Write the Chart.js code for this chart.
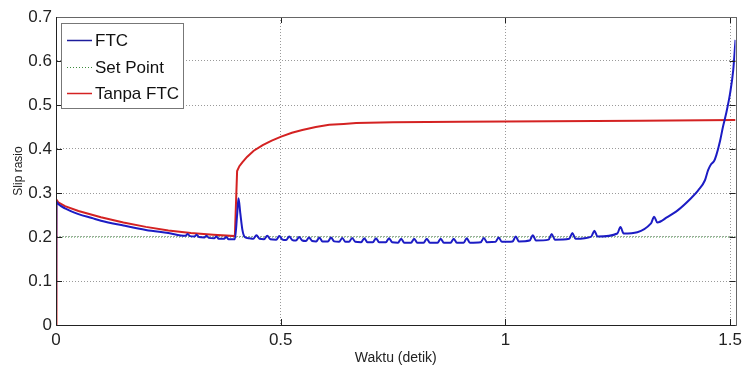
<!DOCTYPE html>
<html>
<head>
<meta charset="utf-8">
<script src="https://cdn.jsdelivr.net/npm/chart.js@4/dist/chart.umd.min.js"></script>
<style>
html,body{margin:0;padding:0;background:#fff;}
#wrap{width:747px;height:367px;}
</style>
</head>
<body>
<div id="wrap"><canvas id="c" width="747" height="367"></canvas></div>
<script>
// ---- data ----
const seriesNames = ["FTC", "Set Point", "Tanpa FTC"];
const xTicks = [0, 0.5, 1, 1.5];
const yTicks = [0, 0.1, 0.2, 0.3, 0.4, 0.5, 0.6, 0.7];

const ftcX = [0, 0.001, 0.005, 0.02, 0.05, 0.08, 0.1, 0.15, 0.2, 0.25,
  0.288, 0.293, 0.298, 0.308, 0.313, 0.318, 0.330, 0.335, 0.340, 0.352, 0.357, 0.362, 0.374, 0.379, 0.384,
  0.398, 0.403, 0.406, 0.41, 0.415, 0.42, 0.43,
  0.439, 0.446, 0.453, 0.463, 0.470, 0.477, 0.490, 0.497, 0.504, 0.512, 0.519, 0.526, 0.534, 0.541, 0.548,
  0.556, 0.563, 0.570, 0.579, 0.586, 0.593, 0.605, 0.612, 0.619, 0.630, 0.637, 0.644, 0.652, 0.659, 0.666,
  0.679, 0.686, 0.693, 0.705, 0.712, 0.719, 0.734, 0.741, 0.748, 0.761, 0.768, 0.775, 0.790, 0.797, 0.804,
  0.818, 0.825, 0.832, 0.849, 0.856, 0.863, 0.878, 0.885, 0.892, 0.907, 0.914, 0.921, 0.945, 0.952, 0.959,
  0.978, 0.985, 0.992, 1.016, 1.023, 1.030, 1.054, 1.061, 1.068, 1.096, 1.103, 1.110, 1.142, 1.149, 1.156,
  1.191, 1.198, 1.205, 1.249, 1.256, 1.263, 1.324, 1.331, 1.338,
  1.36, 1.384, 1.413, 1.429, 1.444, 1.451, 1.458, 1.464, 1.469, 1.478, 1.484, 1.491, 1.5, 1.507, 1.512];
const ftcY = [0, 0.28, 0.275, 0.265, 0.252, 0.243, 0.237, 0.226, 0.216, 0.209,
  0.203, 0.207, 0.202, 0.201, 0.205, 0.200, 0.199, 0.203, 0.198, 0.197, 0.201, 0.196, 0.196, 0.200, 0.195,
  0.195, 0.25, 0.288, 0.255, 0.215, 0.200, 0.197,
  0.196, 0.204, 0.196, 0.195, 0.203, 0.195, 0.194, 0.202, 0.194, 0.193, 0.201, 0.193, 0.192, 0.200, 0.192,
  0.191, 0.199, 0.191, 0.190, 0.199, 0.190, 0.190, 0.199, 0.190, 0.189, 0.198, 0.189, 0.189, 0.198, 0.189,
  0.188, 0.197, 0.188, 0.188, 0.197, 0.188, 0.188, 0.197, 0.188, 0.187, 0.196, 0.187, 0.187, 0.196, 0.187,
  0.187, 0.196, 0.187, 0.187, 0.196, 0.187, 0.187, 0.196, 0.187, 0.187, 0.197, 0.187, 0.188, 0.198, 0.188,
  0.189, 0.199, 0.189, 0.190, 0.201, 0.190, 0.192, 0.204, 0.192, 0.194, 0.207, 0.194, 0.196, 0.209, 0.196,
  0.201, 0.214, 0.201, 0.208, 0.223, 0.208, 0.231, 0.246, 0.233,
  0.245, 0.261, 0.288, 0.306, 0.329, 0.352, 0.366, 0.372, 0.385, 0.420, 0.450, 0.480, 0.527, 0.580, 0.648];

const setX = [0, 1.512];
const setY = [0.2, 0.2];

const tanpaX = [0, 0.001, 0.005, 0.02, 0.05, 0.1, 0.15, 0.2, 0.25, 0.3, 0.35, 0.398, 0.403, 0.408, 0.415, 0.425, 0.44, 0.46, 0.48,
  0.501, 0.525, 0.548, 0.578, 0.608, 0.64, 0.668, 0.75, 0.9, 1.1, 1.3, 1.512];
const tanpaY = [0, 0.285, 0.279, 0.27, 0.259, 0.245, 0.233, 0.223, 0.215, 0.209, 0.205, 0.202, 0.350, 0.361, 0.370, 0.382, 0.396, 0.409, 0.419,
  0.428, 0.437, 0.443, 0.450, 0.455, 0.457, 0.459, 0.461, 0.462, 0.463, 0.464, 0.466];

const toPts = (xs, ys) => xs.map((x, i) => ({x: x, y: ys[i]}));

const FONT = "'Liberation Sans', Arial, sans-serif";
const colors = ["#1c1cc4", "#3c8c3c", "#d42222"];

const matlabPlugin = {
  id: 'matlab',
  afterDatasetsDraw(chart) {
    const ctx = chart.ctx, a = chart.chartArea;
    const xs = chart.scales.x, ys = chart.scales.y;
    ctx.save();
    // inner ticks
    ctx.strokeStyle = "#222"; ctx.lineWidth = 1;
    ctx.beginPath();
    xTicks.forEach(v => {
      const p = Math.round(xs.getPixelForValue(v)) + 0.5;
      ctx.moveTo(p, a.bottom); ctx.lineTo(p, a.bottom - 6);
      ctx.moveTo(p, a.top); ctx.lineTo(p, a.top + 6);
    });
    yTicks.forEach(v => {
      const p = Math.round(ys.getPixelForValue(v)) + 0.5;
      ctx.moveTo(a.left, p); ctx.lineTo(a.left + 6, p);
      ctx.moveTo(a.right, p); ctx.lineTo(a.right - 6, p);
    });
    ctx.stroke();
    // frame
    ctx.strokeStyle = "#666";
    ctx.strokeRect(Math.round(a.left) + 0.5, Math.round(a.top) + 0.5, Math.round(a.right - a.left), Math.round(a.bottom - a.top));
    ctx.strokeStyle = "#222";
    ctx.beginPath();
    ctx.moveTo(Math.round(a.left) + 0.5, a.top); ctx.lineTo(Math.round(a.left) + 0.5, a.bottom + 0.5);
    ctx.lineTo(a.right, Math.round(a.bottom) + 0.5);
    ctx.stroke();
    // legend
    const lx = 61, ly = 23, lw = 122, lh = 85;
    ctx.fillStyle = "#fff";
    ctx.fillRect(lx, ly, lw, lh);
    ctx.strokeStyle = "#777"; ctx.lineWidth = 1;
    ctx.strokeRect(lx + 0.5, ly + 0.5, lw, lh);
    const rows = [40, 67, 93];
    ctx.font = "17px " + FONT;
    ctx.textBaseline = "middle"; ctx.textAlign = "left";
    seriesNames.forEach((name, i) => {
      ctx.save();
      ctx.strokeStyle = i === 0 ? "#1c1c9c" : colors[i];
      ctx.lineWidth = i === 1 ? 1 : 1.5;
      if (i === 1) ctx.setLineDash([1, 2]);
      ctx.beginPath();
      ctx.moveTo(67, rows[i] + 0.5); ctx.lineTo(92, rows[i] + 0.5);
      ctx.stroke();
      ctx.restore();
      ctx.fillStyle = "#111";
      ctx.fillText(name, 95, rows[i] + 1);
    });
    ctx.restore();
  }
};

new Chart(document.getElementById('c'), {
  type: 'line',
  data: {
    datasets: [
      {label: seriesNames[0], data: toPts(ftcX, ftcY), borderColor: colors[0], borderWidth: 2, pointRadius: 0,
        cubicInterpolationMode: 'monotone', order: 1},
      {label: seriesNames[1], data: toPts(setX, setY), borderColor: colors[1], borderWidth: 1, borderDash: [1, 2], pointRadius: 0, order: 3},
      {label: seriesNames[2], data: toPts(tanpaX, tanpaY), borderColor: colors[2], borderWidth: 2, pointRadius: 0,
        tension: 0, order: 2}
    ]
  },
  options: {
    responsive: false,
    animation: false,
    layout: {padding: {top: 17, right: 9, left: 0, bottom: 0}},
    plugins: {legend: {display: false}, tooltip: {enabled: false}},
    scales: {
      x: {
        type: 'linear', min: 0, max: 1.512,
        afterBuildTicks: s => { s.ticks = xTicks.map(v => ({value: v})); },
        afterFit: s => { s.height = 42; },
        grid: {color: "#9a9a9a", drawTicks: false, lineWidth: 1},
        border: {display: true, color: "#222", dash: [1, 2]},
        ticks: {font: {family: FONT, size: 17}, color: "#222", padding: 5, maxRotation: 0,
          callback: v => String(v)},
        title: {display: true, text: "Waktu (detik)", font: {family: FONT, size: 14}, color: "#222", padding: {top: 1, bottom: 0}}
      },
      y: {
        type: 'linear', min: 0, max: 0.7,
        afterBuildTicks: s => { s.ticks = yTicks.map(v => ({value: v})); },
        afterFit: s => { s.width = 56; },
        grid: {color: "#9a9a9a", drawTicks: false, lineWidth: 1},
        border: {display: true, color: "#222", dash: [1, 2]},
        ticks: {font: {family: FONT, size: 17}, color: "#222", padding: 4,
          callback: v => String(v)},
        title: {display: true, text: "Slip rasio", font: {family: FONT, size: 12}, color: "#222", padding: {top: 11, bottom: 0}}
      }
    }
  },
  plugins: [matlabPlugin]
});
</script>
</body>
</html>
